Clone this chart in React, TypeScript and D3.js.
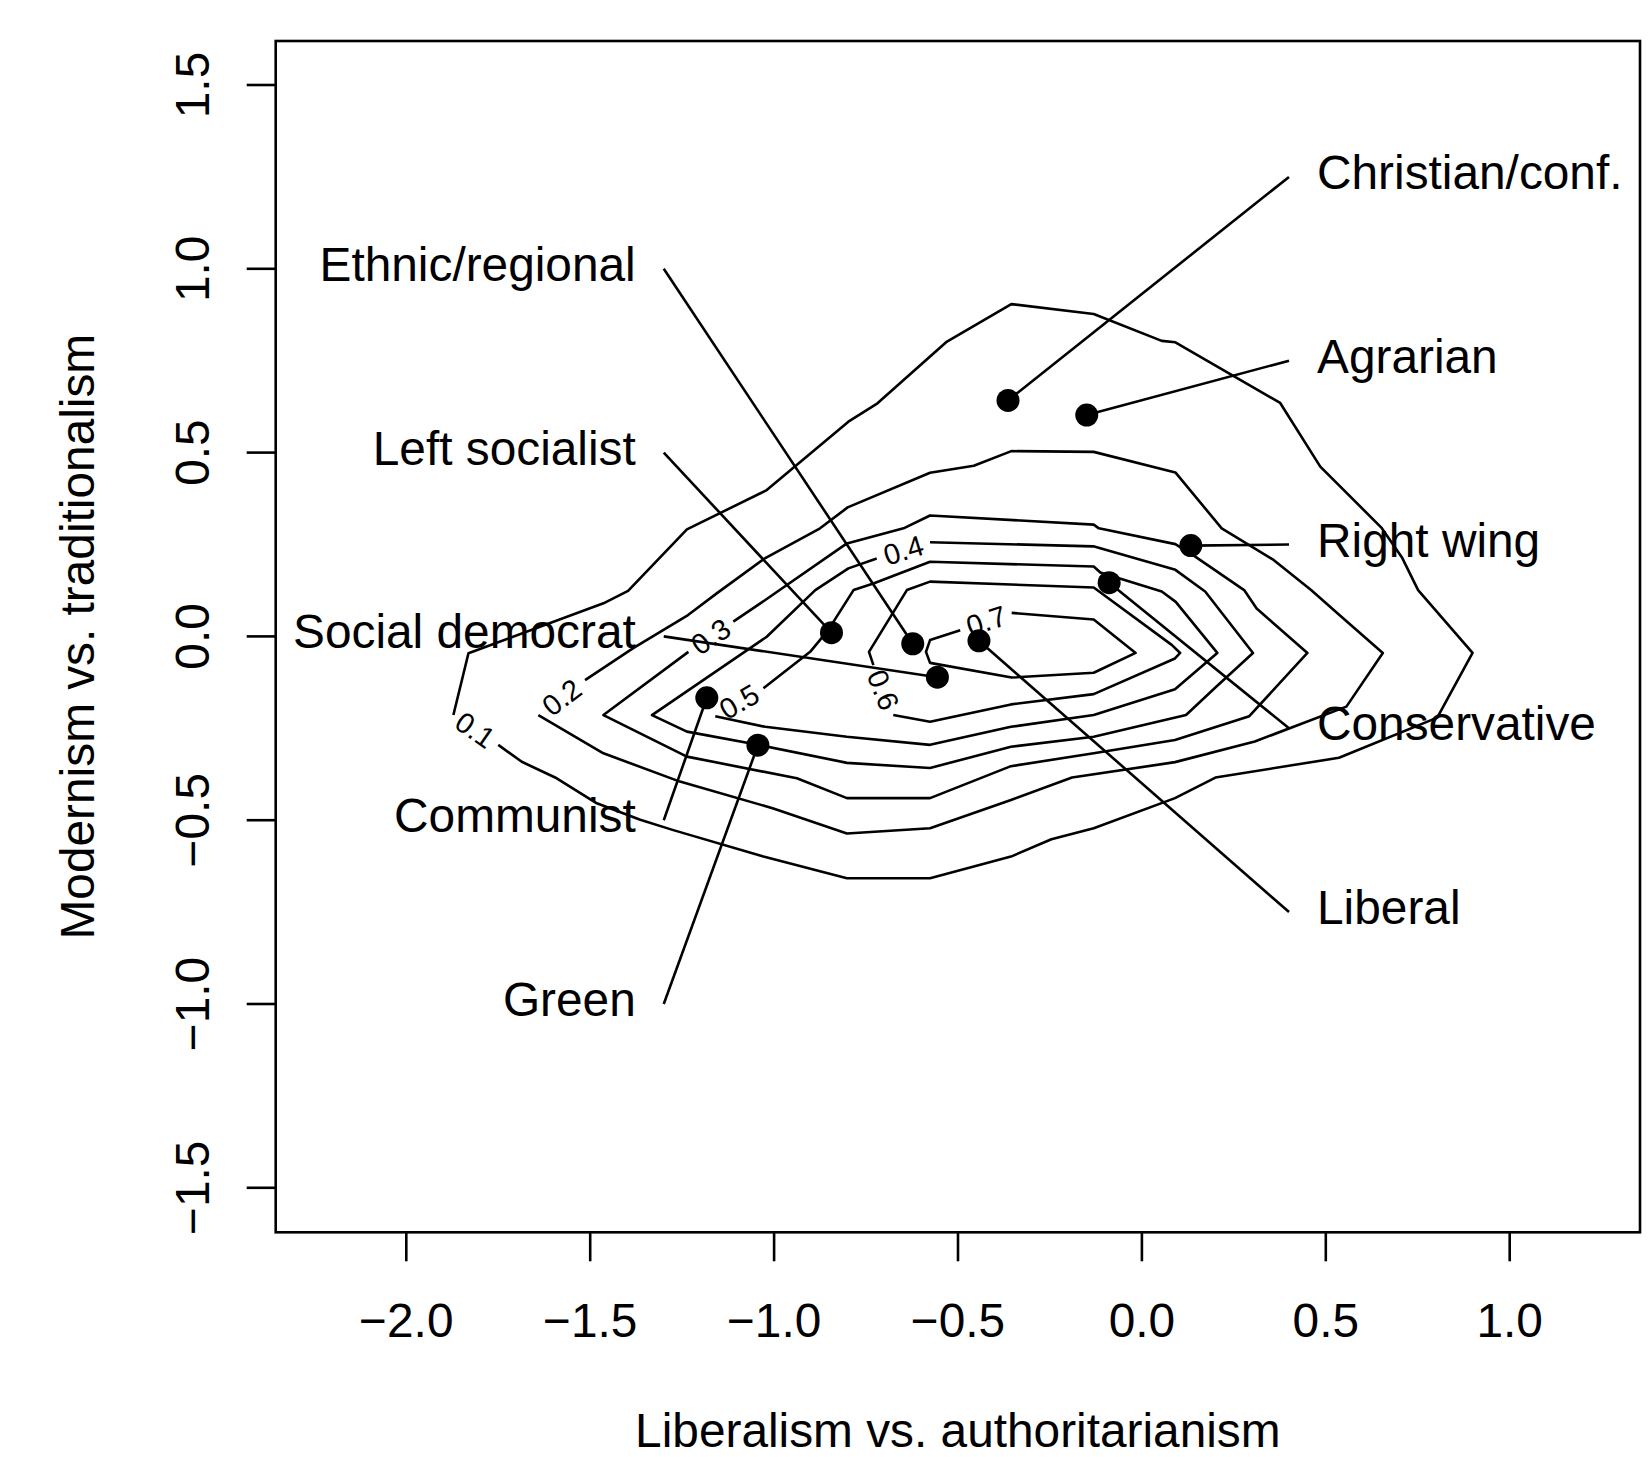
import React from 'react';
import * as d3 from 'd3';

// ---------- axis ticks ----------
const xTicks = [-2.0, -1.5, -1.0, -0.5, 0.0, 0.5, 1.0];
const yTicks = [-1.5, -1.0, -0.5, 0.0, 0.5, 1.0, 1.5];
const xTitle = 'Liberalism vs. authoritarianism';
const yTitle = 'Modernism vs. traditionalism';

// ---------- party family points ----------
const partyNames = ['Christian/conf.', 'Agrarian', 'Right wing', 'Conservative', 'Liberal',
  'Ethnic/regional', 'Left socialist', 'Social democrat', 'Communist', 'Green'];
const partyX = [-0.364, -0.150, 0.133, -0.089, -0.443, -0.623, -0.844, -0.556, -1.183, -1.044];
const partyY = [0.642, 0.602, 0.247, 0.146, -0.012, -0.020, 0.010, -0.111, -0.167, -0.296];
const labelY = [1.25, 0.75, 0.25, -0.25, -0.75, 1.0, 0.5, 0.0, -0.5, -1.0];
const labelSide = ['r', 'r', 'r', 'r', 'r', 'l', 'l', 'l', 'l', 'l'];
const labelLineX = { r: 0.4, l: -1.3 };

// ---------- density contours (traced polylines, data units) ----------
const contourLevels = ['0.1', '0.2', '0.3', '0.4', '0.5', '0.6', '0.7'];
const c01: [number, number][] = [
  [-1.872, -0.214], [-1.831, -0.046], [-1.464, 0.090], [-1.397, 0.124], [-1.237, 0.291],
  [-1.020, 0.398], [-0.798, 0.584], [-0.719, 0.634], [-0.530, 0.802], [-0.355, 0.904],
  [-0.131, 0.877], [0.054, 0.804], [0.091, 0.800], [0.376, 0.635], [0.485, 0.462],
  [0.651, 0.296], [0.708, 0.213], [0.751, 0.126], [0.899, -0.045], [0.803, -0.221],
  [0.536, -0.330], [0.200, -0.384], [0.090, -0.440], [-0.131, -0.522], [-0.246, -0.552],
  [-0.356, -0.599], [-0.576, -0.658], [-0.802, -0.658], [-1.029, -0.599], [-1.274, -0.527],
  [-1.364, -0.499], [-1.482, -0.454], [-1.591, -0.386], [-1.686, -0.341], [-1.750, -0.295]];
const c02: [number, number][] = [
  [-1.514, -0.119], [-1.383, -0.032], [-1.234, 0.058], [-1.156, 0.117], [-1.029, 0.210],
  [-0.875, 0.294], [-0.800, 0.351], [-0.576, 0.445], [-0.457, 0.464], [-0.355, 0.504],
  [-0.131, 0.502], [0.091, 0.446], [0.217, 0.294], [0.358, 0.208], [0.460, 0.126],
  [0.537, 0.058], [0.655, -0.045], [0.556, -0.191], [0.307, -0.286], [0.090, -0.342],
  [-0.190, -0.384], [-0.356, -0.445], [-0.576, -0.522], [-0.802, -0.536], [-1.002, -0.468],
  [-1.256, -0.395], [-1.464, -0.318], [-1.641, -0.214]];
const c03: [number, number][] = [
  [-1.111, 0.040], [-1.024, 0.099], [-0.802, 0.253], [-0.648, 0.294], [-0.576, 0.329],
  [-0.131, 0.304], [-0.117, 0.294], [0.091, 0.251], [0.145, 0.217], [0.278, 0.126],
  [0.312, 0.076], [0.450, -0.045], [0.292, -0.217], [0.090, -0.282], [-0.131, -0.318],
  [-0.356, -0.353], [-0.576, -0.440], [-0.802, -0.440], [-0.938, -0.386], [-1.237, -0.327],
  [-1.464, -0.214], [-1.233, -0.042]];
const c04: [number, number][] = [
  [-0.576, 0.256], [-0.132, 0.245], [0.091, 0.181], [0.172, 0.122], [0.302, -0.045],
  [0.202, -0.137], [0.120, -0.214], [-0.131, -0.273], [-0.356, -0.300], [-0.576, -0.358],
  [-0.802, -0.344], [-1.044, -0.295], [-1.237, -0.259], [-1.332, -0.214], [-1.020, -0.001],
  [-0.888, 0.126], [-0.798, 0.185], [-0.721, 0.212]];
const c05: [number, number][] = [
  [-1.029, -0.141], [-0.902, -0.042], [-0.853, 0.017], [-0.784, 0.126], [-0.730, 0.144],
  [-0.576, 0.203], [-0.131, 0.190], [-0.113, 0.174], [0.054, 0.122], [0.092, 0.094],
  [0.205, -0.045], [0.090, -0.144], [-0.131, -0.214], [-0.356, -0.246], [-0.576, -0.295],
  [-0.802, -0.273], [-1.024, -0.246], [-1.160, -0.217]];
const c06: [number, number][] = [
  [-0.730, -0.078], [-0.742, -0.042], [-0.639, 0.126], [-0.576, 0.149], [-0.131, 0.133],
  [0.081, -0.023], [0.104, -0.045], [0.090, -0.060], [-0.131, -0.157], [-0.356, -0.185],
  [-0.576, -0.232], [-0.676, -0.214]];
const c07: [number, number][] = [
  [-0.494, 0.017], [-0.576, -0.010], [-0.587, -0.042], [-0.576, -0.072], [-0.354, -0.112],
  [-0.131, -0.099], [-0.017, -0.045], [-0.131, 0.046], [-0.354, 0.064]];
const contourPaths = [c01, c02, c03, c04, c05, c06, c07];
// label centre (data units) and angle (deg) where R's contour() breaks the line
const contourLabelX = [-1.813, -1.577, -1.172, -0.648, -1.095, -0.704, -0.423];
const contourLabelY = [-0.255, -0.166, -0.001, 0.234, -0.178, -0.146, 0.042];
const contourLabelAngle = [35, -37, -34, -17, -30, 68, -18];

const FONT = '"Liberation Sans", Arial, Helvetica, sans-serif';

export default function App() {
  const W = 1651, H = 1457;
  const x = d3.scaleLinear().domain([-2, 1]).range([406.3, 1509.7]);
  const y = d3.scaleLinear().domain([-1.5, 1.5]).range([1187.8, 85]);
  const box = { l: 275.7, r: 1640, t: 41, b: 1232.3 };
  const line = d3.line<[number, number]>().x(d => x(d[0])).y(d => y(d[1]));
  const lw = 2.6;
  const fs = 47.8;
  const fmt = (t: number) => (t < 0 ? '\u2212' : '') + Math.abs(t).toFixed(1);

  return (
    <svg width={W} height={H} style={{ position: 'absolute', left: 0, top: 0, background: '#fff' }}
      fontFamily={FONT}>
      <rect x={0} y={0} width={W} height={H} fill="#fff" />
      {/* contours */}
      {contourPaths.map((p, i) => (
        <path key={'c' + i} d={line(p) || ''} fill="none" stroke="#000" strokeWidth={lw}
          strokeLinejoin="round" />
      ))}
      {contourLevels.map((lab, i) => (
        <text key={'cl' + i} x={x(contourLabelX[i])} y={y(contourLabelY[i])}
          transform={`rotate(${contourLabelAngle[i]},${x(contourLabelX[i])},${y(contourLabelY[i])})`}
          textAnchor="middle" dominantBaseline="central" fontSize={29} fill="#000">{lab}</text>
      ))}
      {/* leader lines */}
      {partyNames.map((n, i) => {
        const side = labelSide[i] as 'r' | 'l';
        return (
          <line key={'ll' + i} x1={x(partyX[i])} y1={y(partyY[i])}
            x2={x(labelLineX[side])} y2={y(labelY[i])} stroke="#000" strokeWidth={lw} />
        );
      })}
      {/* points */}
      {partyNames.map((n, i) => (
        <circle key={'p' + i} cx={x(partyX[i])} cy={y(partyY[i])} r={11.5} fill="#000" />
      ))}
      {/* party labels */}
      {partyNames.map((n, i) => {
        const side = labelSide[i] as 'r' | 'l';
        const ax = x(labelLineX[side]) + (side === 'r' ? 28 : -28);
        return (
          <text key={'pl' + i} x={ax} y={y(labelY[i]) + 12} fontSize={fs}
            textAnchor={side === 'r' ? 'start' : 'end'} fill="#000">{n}</text>
        );
      })}
      {/* box */}
      <rect x={box.l} y={box.t} width={box.r - box.l} height={box.b - box.t} fill="none"
        stroke="#000" strokeWidth={lw} />
      {/* x axis */}
      {xTicks.map((t, i) => (
        <g key={'xt' + i}>
          <line x1={x(t)} x2={x(t)} y1={box.b} y2={box.b + 29} stroke="#000" strokeWidth={lw} />
          <text x={x(t)} y={1337} fontSize={fs} textAnchor="middle">{fmt(t)}</text>
        </g>
      ))}
      {yTicks.map((t, i) => (
        <g key={'yt' + i}>
          <line x1={box.l - 29} x2={box.l} y1={y(t)} y2={y(t)} stroke="#000" strokeWidth={lw} />
          <text x={209} y={y(t)} fontSize={fs} textAnchor="middle"
            transform={`rotate(-90,209,${y(t)})`}>{fmt(t)}</text>
        </g>
      ))}
      <text x={(box.l + box.r) / 2} y={1447} fontSize={fs} textAnchor="middle">{xTitle}</text>
      <text x={94} y={(box.t + box.b) / 2} fontSize={fs} textAnchor="middle"
        transform={`rotate(-90,94,${(box.t + box.b) / 2})`}>{yTitle}</text>
    </svg>
  );
}
